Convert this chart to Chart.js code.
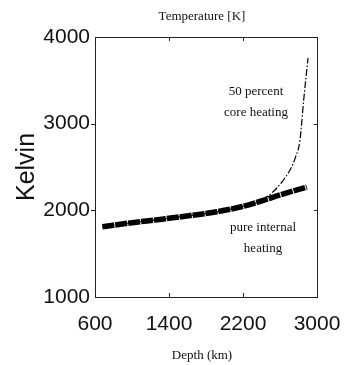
<!DOCTYPE html>
<html>
<head>
<meta charset="utf-8">
<script src="https://cdn.jsdelivr.net/npm/chart.js@4"></script>
<style>
  html, body { margin: 0; padding: 0; background: #fff; }
  #wrap { width: 345px; height: 365px; }
</style>
</head>
<body>
<div id="wrap"><canvas id="chart" width="345" height="365"></canvas></div>
<script>
// depth (km) and temperature (K)
const pureDepth = [680, 980, 1300, 1630, 1900, 2170, 2380, 2600, 2890];
const pureTemp = [1810, 1855, 1895, 1940, 1980, 2038, 2102, 2177, 2269];

const coreDepth = [680, 980, 1300, 1630, 1900, 2170, 2380, 2470, 2546, 2630, 2708, 2770, 2816, 2856, 2903];
const coreTemp = [1810, 1855, 1895, 1940, 1980, 2038, 2102, 2165, 2235, 2340, 2465, 2620, 2811, 3273, 3758];

const xTicks = [600, 1400, 2200, 3000];
const yTicks = [1000, 2000, 3000, 4000];

const labelsTop = ['50 percent', 'core heating'];
const labelsBottom = ['pure internal', 'heating'];

function pairs(xs, ys) {
    let out = [];
    for (let i = 0; i < xs.length; i++)
        out.push({x: xs[i], y: ys[i]});
    return out;
}

const serif = '"Liberation Serif", "Times New Roman", serif';
const sans = '"Liberation Sans", Arial, sans-serif';

// frame, inward ticks, titles and curve labels
const framePlugin = {
    id: 'frame',
    afterDraw(chart) {
        const ctx = chart.ctx;
        const a = chart.chartArea;
        const xs = chart.scales.x;
        const ys = chart.scales.y;
        ctx.save();
        ctx.strokeStyle = '#222';
        ctx.lineWidth = 1;
        ctx.strokeRect(a.left + 0.5, a.top + 0.5, a.right - a.left, a.bottom - a.top);
        ctx.beginPath();
        for (let v of xTicks.slice(1, -1)) {
            let px = Math.round(xs.getPixelForValue(v)) + 0.5;
            ctx.moveTo(px, a.top); ctx.lineTo(px, a.top + 4);
            ctx.moveTo(px, a.bottom); ctx.lineTo(px, a.bottom - 4);
        }
        for (let v of yTicks.slice(1, -1)) {
            let py = Math.round(ys.getPixelForValue(v)) + 0.5;
            ctx.moveTo(a.left - 4, py); ctx.lineTo(a.left, py);
            ctx.moveTo(a.right, py); ctx.lineTo(a.right - 3, py);
        }
        ctx.stroke();

        ctx.fillStyle = '#111';
        ctx.textAlign = 'center';
        ctx.textBaseline = 'middle';
        ctx.font = '13px ' + serif;
        ctx.fillText('Temperature [K]', (a.left + a.right) / 2 - 4, 17);
        ctx.fillText('Depth (km)', (a.left + a.right) / 2 - 4, 356);
        ctx.fillText(labelsTop[0], 256, 92);
        ctx.fillText(labelsTop[1], 256, 113);
        ctx.fillText(labelsBottom[0], 263, 228);
        ctx.fillText(labelsBottom[1], 263, 249);

        ctx.font = '25px ' + sans;
        ctx.translate(27, (a.top + a.bottom) / 2);
        ctx.rotate(-Math.PI / 2);
        ctx.fillText('Kelvin', 0, 0);
        ctx.restore();
    }
};

const config = {
    type: 'line',
    data: {
        datasets: [{
            label: 'pure internal heating',
            data: pairs(pureDepth, pureTemp),
            borderColor: '#000',
            borderWidth: 5.5,
            borderDash: [12, 1],
            pointRadius: 0,
            cubicInterpolationMode: 'monotone',
            fill: false,
            order: 1
        }, {
            label: '50 percent core heating',
            data: pairs(coreDepth, coreTemp),
            borderColor: '#000',
            borderWidth: 1.2,
            borderDash: [7, 2, 1.5, 2],
            pointRadius: 0,
            cubicInterpolationMode: 'monotone',
            fill: false,
            order: 2
        }]
    },
    options: {
        responsive: false,
        animation: false,
        layout: {
            padding: {left: 0, right: 28, top: 37, bottom: 0}
        },
        plugins: {
            legend: {display: false},
            tooltip: {enabled: false}
        },
        scales: {
            x: {
                type: 'linear',
                min: 600,
                max: 3000,
                afterBuildTicks: s => { s.ticks = xTicks.map(v => ({value: v})); },
                afterFit: s => { s.height = 68; s.paddingLeft = 0; s.paddingRight = 0; },
                grid: {display: false, drawTicks: false},
                border: {display: false},
                ticks: {
                    color: '#111',
                    padding: 15,
                    maxRotation: 0,
                    callback: v => String(v),
                    font: {family: sans, size: 21}
                }
            },
            y: {
                type: 'linear',
                min: 1000,
                max: 4000,
                afterBuildTicks: s => { s.ticks = yTicks.map(v => ({value: v})); },
                afterFit: s => { s.width = 95; s.paddingTop = 0; s.paddingBottom = 0; },
                grid: {display: false, drawTicks: false},
                border: {display: false},
                ticks: {
                    color: '#111',
                    padding: 5,
                    callback: v => String(v),
                    font: {family: sans, size: 21}
                }
            }
        }
    },
    plugins: [framePlugin]
};

let chart = new Chart(document.getElementById('chart'), config);
</script>
</body>
</html>
